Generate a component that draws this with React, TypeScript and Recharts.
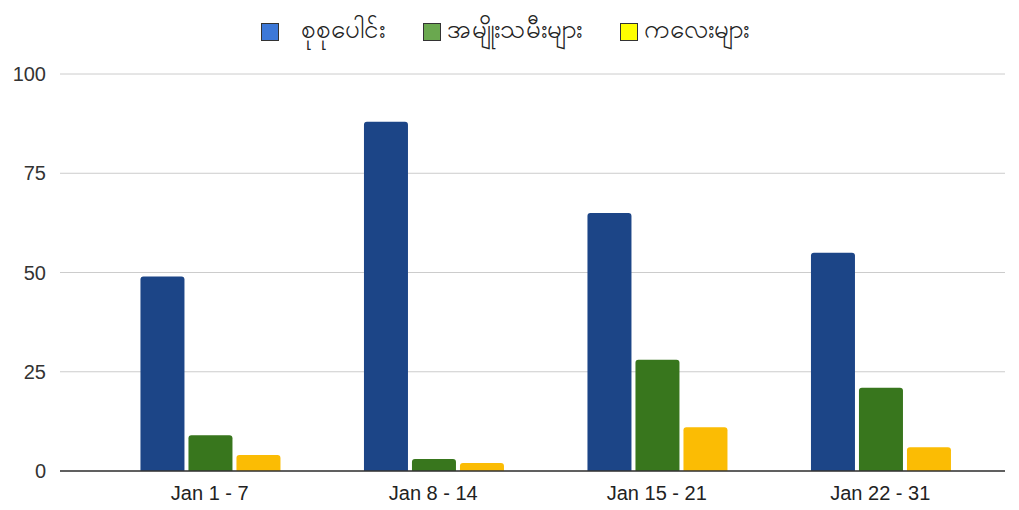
import React from 'react';
import { BarChart, Bar, XAxis, YAxis, CartesianGrid, Legend } from 'recharts';

const weeks = ['Jan 1 - 7', 'Jan 8 - 14', 'Jan 15 - 21', 'Jan 22 - 31'];
const total = [49, 88, 65, 55];
const women = [9, 3, 28, 21];
const children = [4, 2, 11, 6];
const yTicks = [0, 25, 50, 75, 100];

const series = [
    { key: 'total', name: 'စုစုပေါင်း', fill: '#1c4587', swatch: '#3c78d8' },
    { key: 'women', name: 'အမျိုးသမီးများ', fill: '#38761d', swatch: '#6aa84f' },
    { key: 'children', name: 'ကလေးများ', fill: '#fbbc04', swatch: '#ffff00' },
];

const data = weeks.map((week, i) => ({
    week,
    total: total[i],
    women: women[i],
    children: children[i],
}));

const font = '"Liberation Sans", Arial, sans-serif';

function ChartLegend() {
    return (
        <div style={{ display: 'flex', justifyContent: 'center', alignItems: 'center', gap: 38, fontFamily: font, fontSize: 26, color: '#222', paddingLeft: 4 }}>
            {series.map((s, i) => (
                <div key={s.key} style={{ display: 'flex', alignItems: 'center', gap: i === 0 ? 22 : 6 }}>
                    <span style={{ width: 16, height: 16, background: s.swatch, border: '1px solid #333', display: 'inline-block' }} />
                    <span>{s.name}</span>
                </div>
            ))}
        </div>
    );
}

export default function App() {
    return (
        <div style={{ position: 'absolute', left: 0, top: 0, width: 1019, height: 510, background: '#fff' }}>
            <BarChart
                width={1019}
                height={510}
                data={data}
                margin={{ top: 40, right: 14, bottom: 0, left: 0 }}
                barCategoryGap="19%"
                barGap={4}
            >
                <Legend verticalAlign="top" height={34} wrapperStyle={{ top: 12 }} content={() => <ChartLegend />} />
                <CartesianGrid vertical={false} stroke="#cccccc" />
                <XAxis
                    dataKey="week"
                    padding={{ left: 38, right: 13 }}
                    axisLine={{ stroke: '#333', strokeWidth: 1.5 }}
                    tickLine={false}
                    tick={{ fill: '#222', fontSize: 20, fontFamily: font }}
                    tickMargin={9}
                    height={39}
                />
                <YAxis
                    domain={[0, 100]}
                    ticks={yTicks}
                    width={60}
                    axisLine={false}
                    tickLine={false}
                    tick={{ fill: '#333', fontSize: 20, fontFamily: font }}
                    tickMargin={8}
                />
                {series.map((s) => (
                    <Bar key={s.key} dataKey={s.key} name={s.name} fill={s.fill} radius={[3, 3, 0, 0]} isAnimationActive={false} />
                ))}
            </BarChart>
        </div>
    );
}
